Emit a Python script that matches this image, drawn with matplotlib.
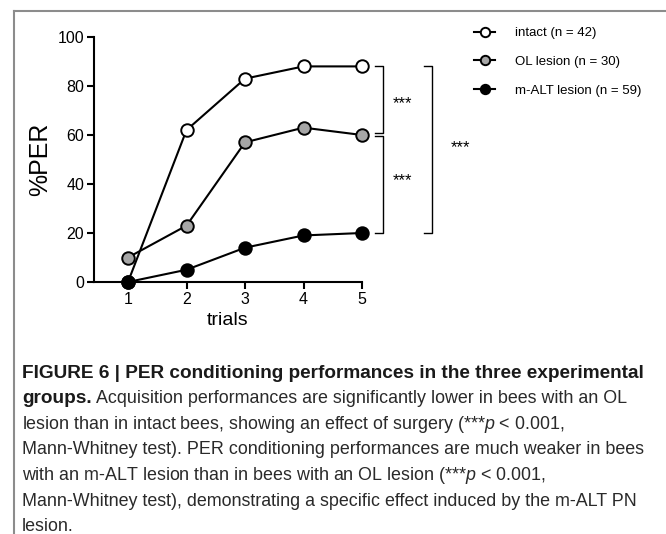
import matplotlib
matplotlib.use("Agg")
import matplotlib.pyplot as plt
from matplotlib.lines import Line2D

plt.rcParams['font.family'] = ['Liberation Sans', 'DejaVu Sans']
plt.rcParams['mathtext.fontset'] = 'custom'
plt.rcParams['mathtext.rm'] = 'Liberation Sans'
plt.rcParams['mathtext.it'] = 'Liberation Sans:italic'

# ---- data ----
trials = [1, 2, 3, 4, 5]
intact = [0, 62, 83, 88, 88]
ol_lesion = [10, 23, 57, 63, 60]
malt_lesion = [0, 5, 14, 19, 20]
series_labels = ["intact (n = 42)", "OL lesion (n = 30)", "m-ALT lesion (n = 59)"]
series_colors = ["white", "#a6a6a6", "black"]
y_ticks = [0, 20, 40, 60, 80, 100]
sig_label = "***"

caption_lines = [
    ("bold", "FIGURE 6 | PER conditioning performances in the three experimental"),
    ("mixed", "groups.", " Acquisition performances are significantly lower in bees with an OL"),
    ("normal", "lesion than in intact bees, showing an effect of surgery (***$p$ < 0.001,"),
    ("normal", "Mann-Whitney test). PER conditioning performances are much weaker in bees"),
    ("normal", "with an m-ALT lesion than in bees with an OL lesion (***$p$ < 0.001,"),
    ("normal", "Mann-Whitney test), demonstrating a specific effect induced by the m-ALT PN"),
    ("normal", "lesion."),
]

W, H = 666, 534
fig = plt.figure(figsize=(W / 100, H / 100), dpi=100)

# axes placement (pixels)
ax_l, ax_r, ax_t, ax_b = 94, 362, 37, 282
ax = fig.add_axes([ax_l / W, 1 - ax_b / H, (ax_r - ax_l) / W, (ax_b - ax_t) / H])

lines = []
for vals, col, lab in zip([intact, ol_lesion, malt_lesion], series_colors, series_labels):
    ln, = ax.plot(trials, vals, color="black", lw=1.5, marker="o", markersize=9,
                  markerfacecolor=col, markeredgecolor="black", markeredgewidth=1.4,
                  label=lab, clip_on=False, zorder=3)
    lines.append(ln)

x_left = 1 - (128 - ax_l) / 58.5
ax.set_xlim(x_left, 5)
ax.set_ylim(0, 100)
ax.set_xticks(trials)
ax.set_yticks(y_ticks)
for s in ["top", "right"]:
    ax.spines[s].set_visible(False)
for s in ["left", "bottom"]:
    ax.spines[s].set_linewidth(1.5)
ax.tick_params(axis="both", direction="out", length=5, width=1.5, labelsize=11.5, pad=2)
ax.set_ylabel("%PER", fontsize=18, labelpad=4)
ax.set_xlabel("trials", fontsize=14, labelpad=4)

# significance brackets (data coordinates)
def bracket(x0, x1, y0, y1):
    ax.plot([x0, x1, x1, x0], [y0, y0, y1, y1], color="black", lw=1.0, clip_on=False)

bracket(5.22, 5.36, intact[-1], ol_lesion[-1] + 1)
bracket(5.22, 5.36, ol_lesion[-1] - 0.5, malt_lesion[-1])
bracket(6.06, 6.20, intact[-1], malt_lesion[-1])
ax.text(5.70, 73, sig_label, ha="center", va="center", fontsize=12)
ax.text(5.70, 41.5, sig_label, ha="center", va="center", fontsize=12)
ax.text(6.68, 55, sig_label, ha="center", va="center", fontsize=12)

# legend
ax.legend(handles=lines, loc="upper left", bbox_to_anchor=(474 / W, 1 - 27 / H),
          bbox_transform=fig.transFigure, frameon=False, fontsize=9.5,
          markerscale=0.75, handlelength=1.6, handletextpad=1.5, labelspacing=1.25,
          borderaxespad=0, borderpad=0)

# frame lines
frame_col = "#8c8c8c"
fig.add_artist(Line2D([14 / W, 14 / W], [1 - 11 / H, 0], transform=fig.transFigure,
                      color=frame_col, lw=1.5))
fig.add_artist(Line2D([14 / W, 1], [1 - 11 / H, 1 - 11 / H], transform=fig.transFigure,
                      color=frame_col, lw=1.5))

# caption
fig.canvas.draw()
renderer = fig.canvas.get_renderer()
cap_x = 22
cap_y0 = 373
cap_dy = 25.6

def width_px(t):
    return t.get_window_extent(renderer).width

# fit regular size to the reference line width
probe = fig.text(0, 0, caption_lines[3][1], fontsize=10)
reg_size = 10 * 625 / width_px(probe)
probe.remove()
probe = fig.text(0, 0, caption_lines[0][1], fontsize=10, fontweight="bold")
bold_size = 10 * 623 / width_px(probe)
probe.remove()

txt_col = "#2a2a2a"
for i, item in enumerate(caption_lines):
    y = 1 - (cap_y0 + i * cap_dy) / H
    if item[0] == "bold":
        fig.text(cap_x / W, y, item[1], fontsize=bold_size, fontweight="bold",
                 va="center", ha="left", color="#1a1a1a")
    elif item[0] == "mixed":
        t = fig.text(cap_x / W, y, item[1], fontsize=bold_size, fontweight="bold",
                     va="center", ha="left", color="#1a1a1a")
        wpx = width_px(t)
        fig.text((cap_x + wpx) / W, y, item[2], fontsize=reg_size,
                 va="center", ha="left", color=txt_col)
    else:
        fig.text(cap_x / W, y, item[1], fontsize=reg_size, va="center", ha="left",
                 color=txt_col)

fig.savefig("out.png", dpi=100)
